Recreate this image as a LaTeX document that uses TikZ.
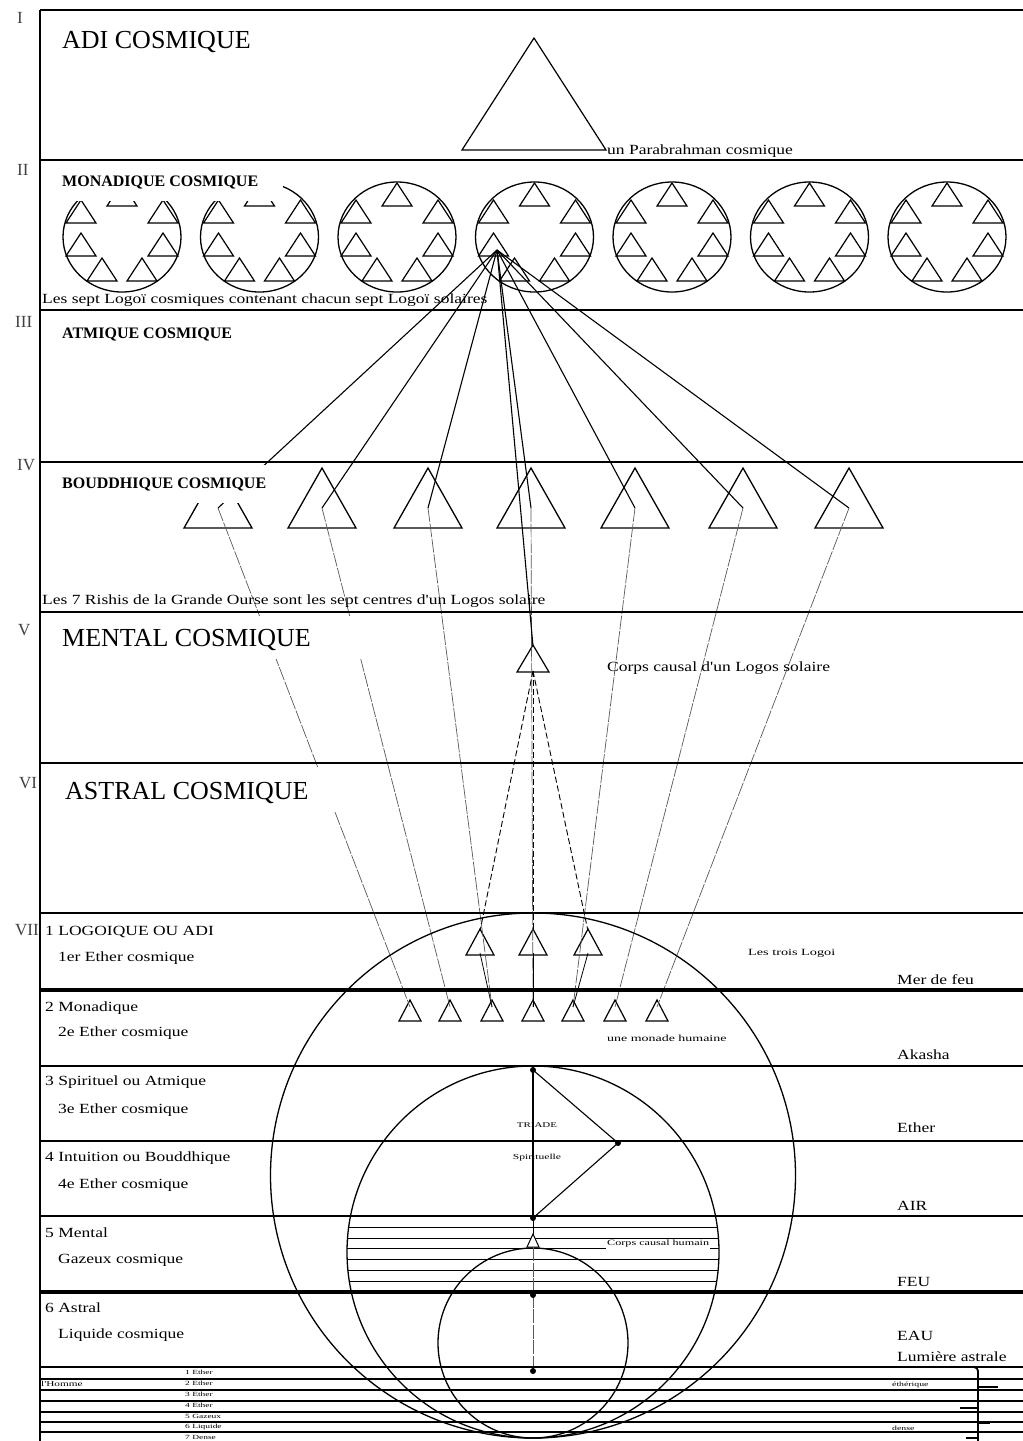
\documentclass[tikz,border=0pt]{standalone}
\usepackage{fontspec}
\setmainfont{Liberation Serif}
\newfontfamily\wf[FakeStretch=1.25]{Liberation Serif}
\newfontfamily\tf[FakeStretch=1.5]{Liberation Serif}
\newcommand{\mytri}[5][]{\draw[#1] (#2,#3) -- ++(#4/2,#5) -- ++(-#4,0) -- cycle;}
\begin{document}
\begin{tikzpicture}[x=1pt,y=-1pt,
  bandline/.style={line width=1.6pt},
  heavyline/.style={line width=4pt},
  tl/.style={line width=1.2pt, line join=miter},
  ray/.style={line width=1.1pt},
  fine/.style={line width=0.7pt, black!65, dash pattern=on 14pt off 1.5pt},
  dsh/.style={line width=0.9pt, dash pattern=on 6pt off 3pt},
  big/.style={font=\fontsize{26}{28}\selectfont, anchor=west, inner sep=0pt},
  bld/.style={font=\bfseries\fontsize{16}{18}\selectfont, anchor=west, inner sep=0pt},
  lab/.style={font=\wf\fontsize{14}{16}\selectfont, anchor=west, inner sep=0pt},
  tinylab/.style={font=\tf\fontsize{#1}{#1}\selectfont, inner sep=0pt},
  roman/.style={font=\fontsize{17}{18}\selectfont, text=black!75, inner sep=0pt}]
\fill[white] (0,0) rectangle (1023,1441);
\useasboundingbox (0,0) rectangle (1023,1441);

% ---- Band I
\mytri[tl]{534}{38}{144}{112}

% ---- Band II : seven cosmic Logoi
\foreach \cx in {122,259.5,397,534.5,672,809.5,947} {
  \draw[line width=1.3pt] (\cx,237) ellipse [x radius=59, y radius=55];
  \foreach \dx/\dy in {0/-54,-41/-37,41/-37,-41/-4,41/-4,-20/21,20/21}
    {\mytri[tl]{\cx+\dx}{237+\dy}{30}{23}}
}
\coordinate (F) at (497,250);

% ---- Band IV : seven Rishis
\foreach \bx [count=\i] in {218,322,428,531,635,743,849} {
  \mytri[line width=1.3pt]{\bx}{468}{68}{60}
  \coordinate (B\i) at (\bx,508);
}

% ---- Band V : causal body of a solar Logos
\mytri[tl]{533}{645}{32}{27}
\coordinate (MA) at (533,646);
\coordinate (MB) at (533,671);

% ---- Band VII : three Logoi and seven monads
\foreach \lx [count=\i] in {480,533,588} {
  \mytri[tl]{\lx}{929}{28}{26}
  \coordinate (L\i) at (\lx,931);
  \coordinate (Lb\i) at (\lx,953);
}
\foreach \mx [count=\i] in {410,450,492,533,573,615,657} {
  \mytri[tl]{\mx}{1000}{22}{21}
  \coordinate (M\i) at (\mx,1007);
}

% ---- connectors
\foreach \i in {1,...,7} {
  \draw[ray] (F) -- (B\i);
  \draw[fine] (B\i) -- (M\i);
}
\draw[ray] (F) -- (MA);
\draw[dsh] (MB) -- (L1);
\draw[dsh] (MB) -- (L2);
\draw[dsh] (MB) -- (L3);
\draw[line width=0.8pt] (Lb1) -- (M3);
\draw[line width=0.8pt] (Lb2) -- (M4);
\draw[line width=0.8pt] (Lb3) -- (M5);

% ---- concentric circles
\draw[line width=1.3pt] (533,1175.5) circle [radius=262.5];
\draw[line width=1.3pt] (533,1252) circle [radius=186];
\draw[line width=1.3pt] (533,1343) circle [radius=95];
\begin{scope}
  \clip (533,1252) circle [radius=186];
  \foreach \y in {1227,1238,1248,1259,1270,1281}
    \draw[line width=1pt] (330,\y) -- (740,\y);
\end{scope}

% ---- Triade spirituelle
\coordinate (Ta) at (533,1070);
\coordinate (Tb) at (618,1143);
\coordinate (Tc) at (533,1218);
\draw[line width=1.1pt] (Ta) -- (Tc);
\draw[line width=1.1pt] (Ta) -- (Tb) -- (Tc);
\foreach \p in {Ta,Tb,Tc} \fill (\p) circle [radius=3];
\coordinate (ct) at (533,1234);
\coordinate (cb) at (533,1247);
\coordinate (pd) at (533,1295);
\coordinate (pe) at (533,1371);
\draw[line width=1pt] (Tc) -- (ct);
\mytri[line width=1pt, fill=white]{533}{1234}{12}{13}
\draw[fine] (cb) -- (pe);
\fill (pd) circle [radius=3];
\fill (pe) circle [radius=3];

% ---- masks behind the band titles
\fill[white] (44,163) rectangle (283,201);
\fill[white] (44,465) rectangle (270,503);
\fill[white] (44,616) rectangle (372,659);
\fill[white] (44,767) rectangle (342,812);

% ---- band lines
\foreach \y in {10,160,310,462,612,763,913,1066,1141,1216,1367,1379,1390,1401,1412,1422,1432}
  \draw[bandline] (40,\y) -- (1023,\y);
\foreach \y in {990,1292}
  \draw[heavyline] (40,\y) -- (1023,\y);
\draw[bandline] (40,10) -- (40,1441);

% ---- bracket
\draw[line width=1.8pt] (960,1367) -- (974,1367) to[out=0,in=90] (978,1371) -- (978,1441);
\draw[line width=1.8pt] (978,1387) -- (998,1387);
\draw[line width=1.8pt] (960,1408) -- (978,1408);
\draw[line width=1.8pt] (978,1423) -- (990,1423);
\draw[line width=1.8pt] (966,1438) -- (978,1438);

% ---- roman numerals
\node[roman, anchor=west] (r1) at (17,18) {I};
\node[roman, anchor=west] (r2) at (17,170) {II};
\node[roman, anchor=west] (r3) at (15,322) {III};
\node[roman, anchor=west] (r4) at (17,465) {IV};
\node[roman, anchor=west] (r5) at (18,630) {V};
\node[roman, anchor=west] (r6) at (19,783) {VI};
\node[roman, anchor=east] (r7) at (39,930) {VII};

% ---- band titles
\node[big] (adi) at (62,42) {ADI COSMIQUE};
\node[bld] (mon) at (62,182) {MONADIQUE COSMIQUE};
\node[bld] (atm) at (62,334) {ATMIQUE COSMIQUE};
\node[bld] (bou) at (62,484) {BOUDDHIQUE COSMIQUE};
\node[big] (men) at (62,640) {MENTAL COSMIQUE};
\node[big] (ast) at (65,793) {ASTRAL COSMIQUE};

% ---- annotations
\node[lab] (para) at (607,151) {un Parabrahman cosmique};
\node[lab] (sept) at (42,300) {Les sept Logoï cosmiques contenant chacun sept Logoï solaires};
\node[lab] (rish) at (42,601) {Les 7 Rishis de la Grande Ourse sont les sept centres d'un Logos solaire};
\node[lab] (ccl) at (607,668) {Corps causal d'un Logos solaire};

% ---- left labels of the solar planes
\node[lab] (p1a) at (45,932) {1 LOGOIQUE OU ADI};
\node[lab] (p1b) at (58,958) {1er Ether cosmique};
\node[lab] (p2a) at (45,1008) {2 Monadique};
\node[lab] (p2b) at (58,1033) {2e Ether cosmique};
\node[lab] (p3a) at (45,1082) {3 Spirituel ou Atmique};
\node[lab] (p3b) at (58,1110) {3e Ether cosmique};
\node[lab] (p4a) at (45,1158) {4 Intuition ou Bouddhique};
\node[lab] (p4b) at (58,1185) {4e Ether cosmique};
\node[lab] (p5a) at (45,1233) {5 Mental};
\node[lab] (p5b) at (58,1260) {Gazeux cosmique};
\node[lab] (p6a) at (45,1308) {6 Astral};
\node[lab] (p6b) at (58,1335) {Liquide cosmique};

% ---- right labels
\node[lab] (e1) at (897,980) {Mer de feu};
\node[lab] (e2) at (897,1055) {Akasha};
\node[lab] (e3) at (897,1128) {Ether};
\node[lab] (e4) at (897,1206) {AIR};
\node[lab] (e5) at (897,1282) {FEU};
\node[lab] (e6) at (897,1336) {EAU};
\node[lab] (e7) at (897,1357) {Lumière astrale};

% ---- small labels
\node[tinylab=9.5, anchor=west] (tl3) at (748,953) {Les trois Logoi};
\node[tinylab=9.3, anchor=west] (mh) at (607,1038) {une monade humaine};
\node[tinylab=7.3] (tri1) at (537,1125) {TRIADE};
\node[tinylab=7.7] (tri2) at (537,1158) {Spirituelle};
\node[tinylab=8.1, anchor=west, fill=white, inner sep=1pt] (cch) at (606,1244) {Corps causal humain};
\node[tinylab=7.5, anchor=west] (hom) at (41,1384) {l'Homme};
\foreach \t [count=\i] in {1 Ether,2 Ether,3 Ether,4 Ether,5 Gazeux,6 Liquide,7 Dense}
  \node[tinylab=6.3, anchor=west] (sp\i) at (185,1362+10.8*\i) {\t};
\node[tinylab=6.5, anchor=west] (eth) at (892,1385) {éthérique};
\node[tinylab=6.5, anchor=west] (den) at (892,1428) {dense};
\end{tikzpicture}
\end{document}
